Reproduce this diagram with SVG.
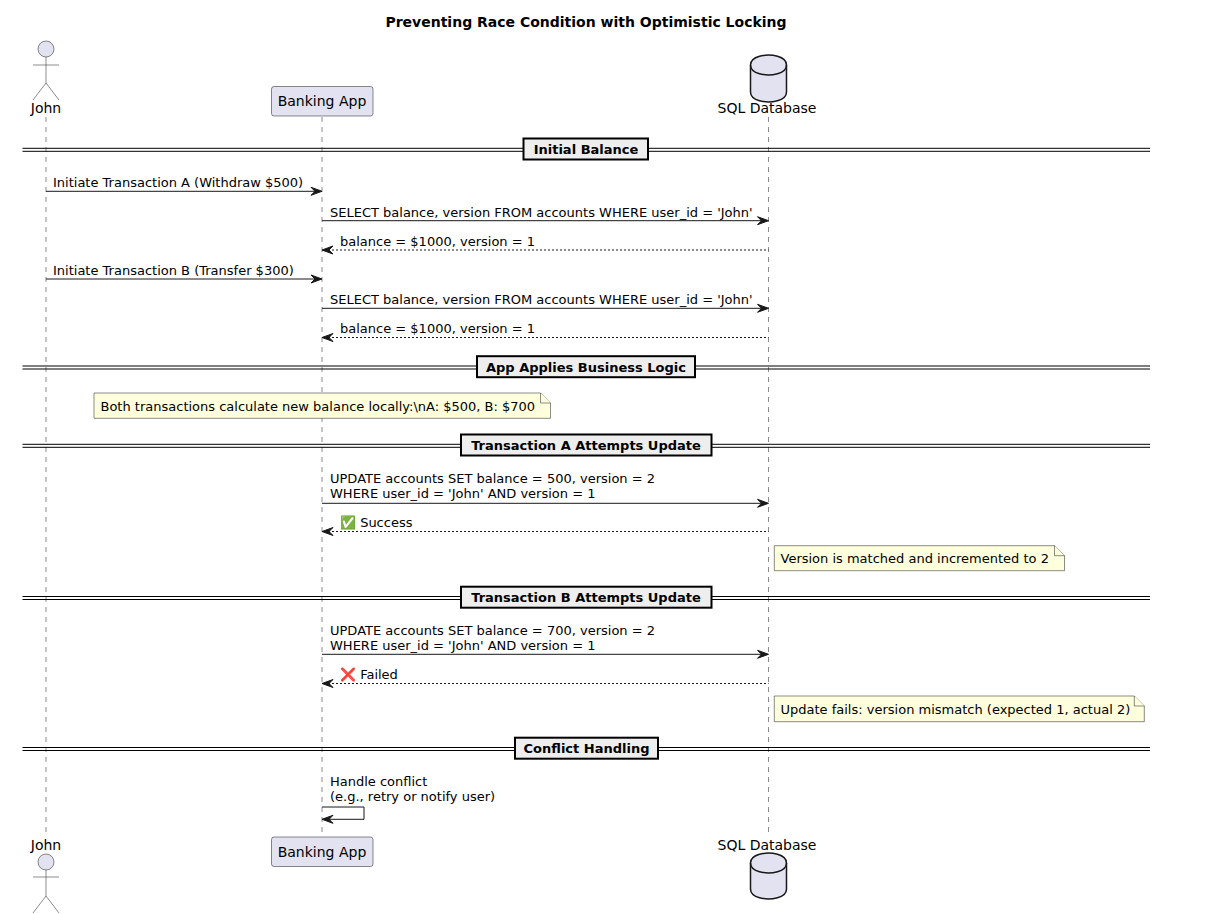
<svg xmlns="http://www.w3.org/2000/svg" width="1215" height="914" viewBox="0 0 1215 914">
<defs>
<style>
text{font-family:"DejaVu Sans","Liberation Sans",sans-serif;fill:#000000}
.title{font-size:14px;font-weight:bold}
.plabel{font-size:14px}
.msg{font-size:13px}
.div{font-size:13px;font-weight:bold}
.life{stroke:#181818;stroke-width:0.5;stroke-dasharray:5,5;fill:none}
.part{fill:#E2E2F0;stroke:#181818;stroke-width:0.5}
.db{fill:#E2E2F0;stroke:#181818;stroke-width:1.5}
.dbin{fill:none;stroke:#181818;stroke-width:1.5}
.actor{fill:#E2E2F0;stroke:#181818;stroke-width:0.5}
.actl{fill:none;stroke:#181818;stroke-width:0.5}
.solid{stroke:#181818;stroke-width:1;fill:none}
.dash{stroke:#181818;stroke-width:1;stroke-dasharray:2,2;fill:none}
.head{fill:#181818;stroke:#181818;stroke-width:1}
.dline{stroke:#000000;stroke-width:1}
.dbox{fill:#EEEEEE;stroke:#000000;stroke-width:2}
.note{fill:#FEFFDD;stroke:#181818;stroke-width:0.5}
</style>
</defs>
<rect width="1215" height="914" fill="#FFFFFF"/>
<text class="title" x="586" y="27" text-anchor="middle">Preventing Race Condition with Optimistic Locking</text>

<g id="lifelines">
<line class="life" x1="46" y1="117" x2="46" y2="836"/>
<line class="life" x1="322" y1="117" x2="322" y2="836"/>
<line class="life" x1="768.5" y1="117" x2="768.5" y2="836"/>
</g>

<g id="john">
<circle class="actor" cx="46" cy="49" r="8"/>
<line class="actl" x1="46" y1="57" x2="46" y2="83"/>
<line class="actl" x1="33" y1="65" x2="59" y2="65"/>
<polyline class="actl" points="33,100 46,83 59,100"/>
<text class="plabel" x="46" y="113" text-anchor="middle">John</text>
</g>
<g id="john-bottom">
<text class="plabel" x="46" y="850" text-anchor="middle">John</text>
<circle class="actor" cx="46" cy="862" r="8"/>
<line class="actl" x1="46" y1="870" x2="46" y2="896"/>
<line class="actl" x1="33" y1="877" x2="59" y2="877"/>
<polyline class="actl" points="33,913 46,896 59,913"/>
</g>

<g id="banking-app">
<rect class="part" x="271.5" y="86.5" width="101.5" height="29.5" rx="2.5"/>
<text class="plabel" x="322" y="106" text-anchor="middle">Banking App</text>
</g>
<g id="banking-app-bottom">
<rect class="part" x="271.5" y="837" width="101.5" height="29.5" rx="2.5"/>
<text class="plabel" x="322" y="857" text-anchor="middle">Banking App</text>
</g>

<g id="sql-database">
<path class="db" d="M750.5,65 C750.5,55 768.5,55 768.5,55 C768.5,55 786.5,55 786.5,65 L786.5,92 C786.5,102 768.5,102 768.5,102 C768.5,102 750.5,102 750.5,92 Z"/>
<path class="dbin" d="M750.5,65 C750.5,75 768.5,75 768.5,75 C768.5,75 786.5,75 786.5,65"/>
<text class="plabel" x="767" y="113" text-anchor="middle">SQL Database</text>
</g>
<g id="sql-database-bottom">
<text class="plabel" x="767" y="850" text-anchor="middle">SQL Database</text>
<path class="db" d="M750.5,863 C750.5,853 768.5,853 768.5,853 C768.5,853 786.5,853 786.5,863 L786.5,889 C786.5,899 768.5,899 768.5,899 C768.5,899 750.5,899 750.5,889 Z"/>
<path class="dbin" d="M750.5,863 C750.5,873 768.5,873 768.5,873 C768.5,873 786.5,873 786.5,863"/>
</g>

<g id="div-initial">
<line class="dline" x1="22.5" y1="148.3" x2="1150" y2="148.3"/>
<line class="dline" x1="22.5" y1="151.3" x2="1150" y2="151.3"/>
<rect class="dbox" x="523.5" y="138.5" width="124.5" height="21"/>
<text class="div" x="586" y="154" text-anchor="middle">Initial Balance</text>
</g>
<g id="div-logic">
<line class="dline" x1="22.5" y1="366" x2="1150" y2="366"/>
<line class="dline" x1="22.5" y1="369" x2="1150" y2="369"/>
<rect class="dbox" x="477" y="356.2" width="218" height="21"/>
<text class="div" x="586" y="372" text-anchor="middle">App Applies Business Logic</text>
</g>
<g id="div-a">
<line class="dline" x1="22.5" y1="444.3" x2="1150" y2="444.3"/>
<line class="dline" x1="22.5" y1="447.3" x2="1150" y2="447.3"/>
<rect class="dbox" x="461" y="434.5" width="250.5" height="21"/>
<text class="div" x="586" y="450" text-anchor="middle">Transaction A Attempts Update</text>
</g>
<g id="div-b">
<line class="dline" x1="22.5" y1="596.5" x2="1150" y2="596.5"/>
<line class="dline" x1="22.5" y1="599.5" x2="1150" y2="599.5"/>
<rect class="dbox" x="461" y="586.7" width="250.5" height="21"/>
<text class="div" x="586" y="602.2" text-anchor="middle">Transaction B Attempts Update</text>
</g>
<g id="div-conflict">
<line class="dline" x1="22.5" y1="747.5" x2="1150" y2="747.5"/>
<line class="dline" x1="22.5" y1="750.5" x2="1150" y2="750.5"/>
<rect class="dbox" x="515" y="737.7" width="143" height="21"/>
<text class="div" x="586.5" y="753.2" text-anchor="middle">Conflict Handling</text>
</g>

<g id="note-local">
<path class="note" d="M94,393 L540.5,393 L550.5,403 L550.5,418.3 L94,418.3 Z"/>
<path class="note" d="M540.5,393 L540.5,403 L550.5,403"/>
<text class="msg" x="100.5" y="411">Both transactions calculate new balance locally:\nA: $500, B: $700</text>
</g>
<g id="note-matched">
<path class="note" d="M774.3,545.7 L1054.5,545.7 L1064.5,555.7 L1064.5,570.7 L774.3,570.7 Z"/>
<path class="note" d="M1054.5,545.7 L1054.5,555.7 L1064.5,555.7"/>
<text class="msg" x="780.5" y="563">Version is matched and incremented to 2</text>
</g>
<g id="note-fails">
<path class="note" d="M774.3,696 L1134.3,696 L1144.3,706 L1144.3,721.7 L774.3,721.7 Z"/>
<path class="note" d="M1134.3,696 L1134.3,706 L1144.3,706"/>
<text class="msg" x="780.5" y="714.3">Update fails: version mismatch (expected 1, actual 2)</text>
</g>

<g id="connectors">
<line class="solid" x1="46" y1="191.3" x2="320" y2="191.3"/>
<polygon class="head" points="311,187.3 322,191.3 311,195.3 315,191.3"/>
<text class="msg" x="53" y="187">Initiate Transaction A (Withdraw $500)</text>

<line class="solid" x1="322" y1="220.7" x2="766" y2="220.7"/>
<polygon class="head" points="757.5,216.7 768.5,220.7 757.5,224.7 761.5,220.7"/>
<text class="msg" x="330" y="216.5">SELECT balance, version FROM accounts WHERE user_id = 'John'</text>

<line class="dash" x1="324" y1="250" x2="768.5" y2="250"/>
<polygon class="head" points="333,246 322,250 333,254 329,250"/>
<text class="msg" x="340" y="245.5">balance = $1000, version = 1</text>

<line class="solid" x1="46" y1="279" x2="320" y2="279"/>
<polygon class="head" points="311,275 322,279 311,283 315,279"/>
<text class="msg" x="53" y="275">Initiate Transaction B (Transfer $300)</text>

<line class="solid" x1="322" y1="308.3" x2="766" y2="308.3"/>
<polygon class="head" points="757.5,304.3 768.5,308.3 757.5,312.3 761.5,308.3"/>
<text class="msg" x="330" y="304.3">SELECT balance, version FROM accounts WHERE user_id = 'John'</text>

<line class="dash" x1="324" y1="337.5" x2="768.5" y2="337.5"/>
<polygon class="head" points="333,333.5 322,337.5 333,341.5 329,337.5"/>
<text class="msg" x="340" y="332.5">balance = $1000, version = 1</text>

<line class="solid" x1="322" y1="503.3" x2="766" y2="503.3"/>
<polygon class="head" points="757.5,499.3 768.5,503.3 757.5,507.3 761.5,503.3"/>
<text class="msg" x="330" y="483">UPDATE accounts SET balance = 500, version = 2</text>
<text class="msg" x="330" y="498">WHERE user_id = 'John' AND version = 1</text>

<line class="dash" x1="324" y1="531.5" x2="768.5" y2="531.5"/>
<polygon class="head" points="333,527.5 322,531.5 333,535.5 329,531.5"/>
<text class="msg" x="340" y="527">✅ Success</text>

<line class="solid" x1="322" y1="654.3" x2="766" y2="654.3"/>
<polygon class="head" points="757.5,650.3 768.5,654.3 757.5,658.3 761.5,654.3"/>
<text class="msg" x="330" y="634.5">UPDATE accounts SET balance = 700, version = 2</text>
<text class="msg" x="330" y="649.5">WHERE user_id = 'John' AND version = 1</text>

<line class="dash" x1="324" y1="683.5" x2="768.5" y2="683.5"/>
<polygon class="head" points="333,679.5 322,683.5 333,687.5 329,683.5"/>
<text class="msg" x="340" y="679">❌ Failed</text>

<polyline class="solid" points="322,807 364,807 364,819.3 324,819.3"/>
<polygon class="head" points="333,815.3 322,819.3 333,823.3 329,819.3"/>
<text class="msg" x="330" y="786">Handle conflict</text>
<text class="msg" x="330" y="801">(e.g., retry or notify user)</text>
</g>
</svg>
